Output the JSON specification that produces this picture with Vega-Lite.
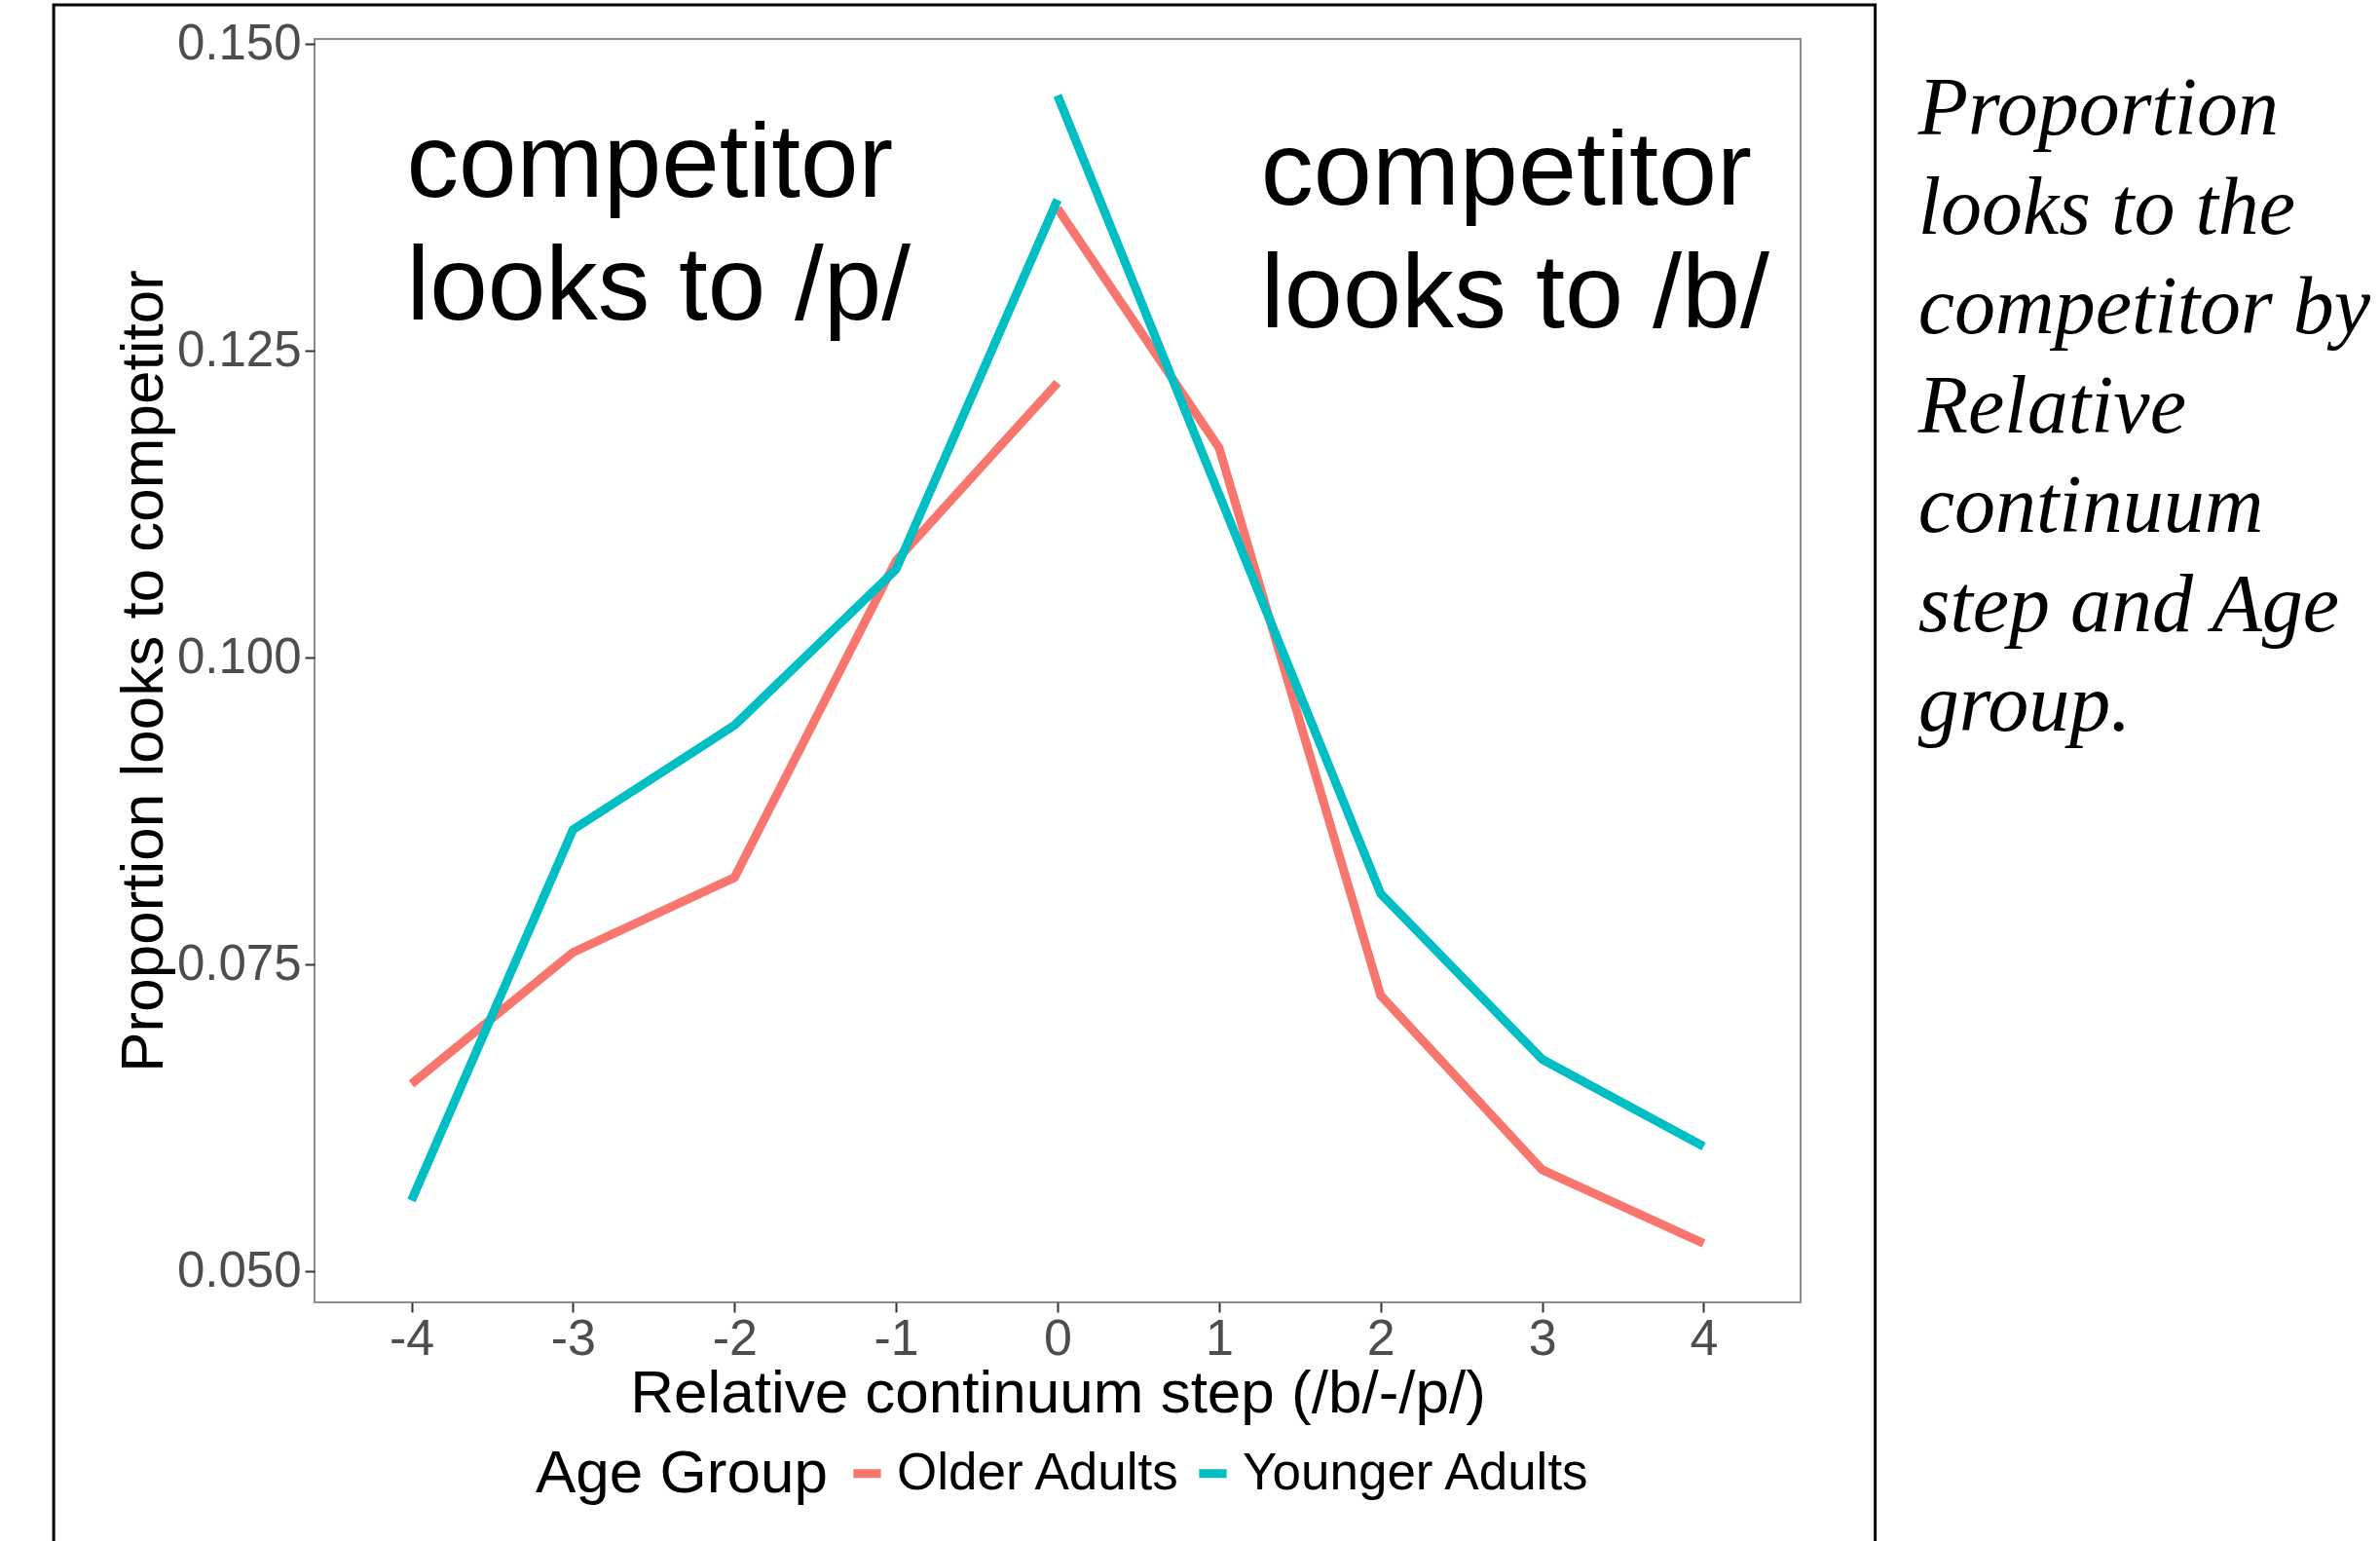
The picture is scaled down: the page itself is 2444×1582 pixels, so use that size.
{
  "$schema": "https://vega.github.io/schema/vega-lite/v6.json",
  "autosize": {"type": "none"},
  "width": 1526,
  "height": 1297,
  "padding": {"left": 323, "top": 40, "right": 595, "bottom": 245},
  "background": "white",
  "config": {
    "font": "Liberation Sans",
    "view": {"stroke": "#8c8c8c", "strokeWidth": 2},
    "axis": {"grid": false, "domain": false, "tickColor": "#333333", "tickWidth": 2, "tickSize": 10,
      "labelFont": "Liberation Sans", "labelColor": "#4D4D4D", "titleFont": "Liberation Sans",
      "titleFontWeight": "normal", "titleColor": "black", "titleFontSize": 62}
  },
  "data": {"values": [
    {"step": -4, "prop": 0.0653, "group": "Older Adults", "side": "p"},
    {"step": -3, "prop": 0.0760, "group": "Older Adults", "side": "p"},
    {"step": -2, "prop": 0.0821, "group": "Older Adults", "side": "p"},
    {"step": -1, "prop": 0.1079, "group": "Older Adults", "side": "p"},
    {"step": 0, "prop": 0.1224, "group": "Older Adults", "side": "p"},
    {"step": 0, "prop": 0.1366, "group": "Older Adults", "side": "b"},
    {"step": 1, "prop": 0.1171, "group": "Older Adults", "side": "b"},
    {"step": 2, "prop": 0.0725, "group": "Older Adults", "side": "b"},
    {"step": 3, "prop": 0.0583, "group": "Older Adults", "side": "b"},
    {"step": 4, "prop": 0.0523, "group": "Older Adults", "side": "b"},
    {"step": -4, "prop": 0.0558, "group": "Younger Adults", "side": "p"},
    {"step": -3, "prop": 0.0860, "group": "Younger Adults", "side": "p"},
    {"step": -2, "prop": 0.0945, "group": "Younger Adults", "side": "p"},
    {"step": -1, "prop": 0.1072, "group": "Younger Adults", "side": "p"},
    {"step": 0, "prop": 0.1373, "group": "Younger Adults", "side": "p"},
    {"step": 0, "prop": 0.1458, "group": "Younger Adults", "side": "b"},
    {"step": 1, "prop": 0.1133, "group": "Younger Adults", "side": "b"},
    {"step": 2, "prop": 0.0808, "group": "Younger Adults", "side": "b"},
    {"step": 3, "prop": 0.0673, "group": "Younger Adults", "side": "b"},
    {"step": 4, "prop": 0.0602, "group": "Younger Adults", "side": "b"}
  ]},
  "layer": [
    {
      "mark": {"type": "line", "strokeWidth": 9, "strokeCap": "butt", "strokeJoin": "round"},
      "encoding": {
        "x": {"field": "step", "type": "quantitative",
          "scale": {"domain": [-4.6, 4.6], "nice": false, "zero": false},
          "axis": {"values": [-4, -3, -2, -1, 0, 1, 2, 3, 4], "labelExpr": "datum.value + ''",
            "labelFontSize": 52, "labelPadding": 2, "titlePadding": 0,
            "title": "Relative continuum step (/b/-/p/)"}},
        "y": {"field": "prop", "type": "quantitative",
          "scale": {"domain": [0.0475, 0.1504], "nice": false, "zero": false},
          "axis": {"values": [0.05, 0.075, 0.1, 0.125, 0.15], "format": ".3f",
            "labelFontSize": 51, "labelPadding": 4, "titlePadding": 2,
            "title": "Proportion looks to competitor"}},
        "color": {"field": "group", "type": "nominal",
          "scale": {"domain": ["Older Adults", "Younger Adults"], "range": ["#F8766D", "#00BFC4"]},
          "legend": {"title": "Age Group", "orient": "none", "legendX": 227, "legendY": 1446,
            "direction": "horizontal", "titleOrient": "left", "titleFontSize": 62,
            "titleFontWeight": "normal", "titleColor": "black", "titlePadding": 14, "titleLimit": 0,
            "labelFontSize": 53, "labelColor": "black", "labelOffset": 4, "columnPadding": 0, "labelLimit": 0,
            "symbolType": "stroke", "symbolSize": 800, "symbolStrokeWidth": 9}},
        "detail": {"field": "side", "type": "nominal"}
      }
    },
    {
      "data": {"values": [{}]},
      "mark": {"type": "text", "text": ["competitor", "looks to /p/"], "fontSize": 107,
        "lineHeight": 126, "align": "left", "baseline": "alphabetic", "color": "black"},
      "encoding": {
        "x": {"datum": -4.03, "type": "quantitative"},
        "y": {"datum": 0.13755, "type": "quantitative"}
      }
    },
    {
      "data": {"values": [{}]},
      "mark": {"type": "text", "text": ["competitor", "looks to /b/"], "fontSize": 108,
        "lineHeight": 126, "align": "left", "baseline": "alphabetic", "color": "black"},
      "encoding": {
        "x": {"datum": 1.259, "type": "quantitative"},
        "y": {"datum": 0.13691, "type": "quantitative"}
      }
    },
    {
      "data": {"values": [{}]},
      "mark": {"type": "text",
        "text": ["Proportion", "looks to the", "competitor by", "Relative", "continuum", "step and Age", "group."],
        "font": "Liberation Serif", "fontStyle": "italic", "fontSize": 84, "lineHeight": 102,
        "align": "left", "baseline": "alphabetic", "color": "black"},
      "encoding": {
        "x": {"datum": 5.328, "type": "quantitative"},
        "y": {"datum": 0.14262, "type": "quantitative"}
      }
    },
    {
      "data": {"values": [{}]},
      "mark": {"type": "rect", "filled": false, "stroke": "black", "strokeWidth": 3},
      "encoding": {
        "x": {"datum": -6.215, "type": "quantitative"},
        "x2": {"datum": 5.062},
        "y": {"datum": 0.15318, "type": "quantitative"},
        "y2": {"datum": 0.02}
      }
    }
  ]
}
